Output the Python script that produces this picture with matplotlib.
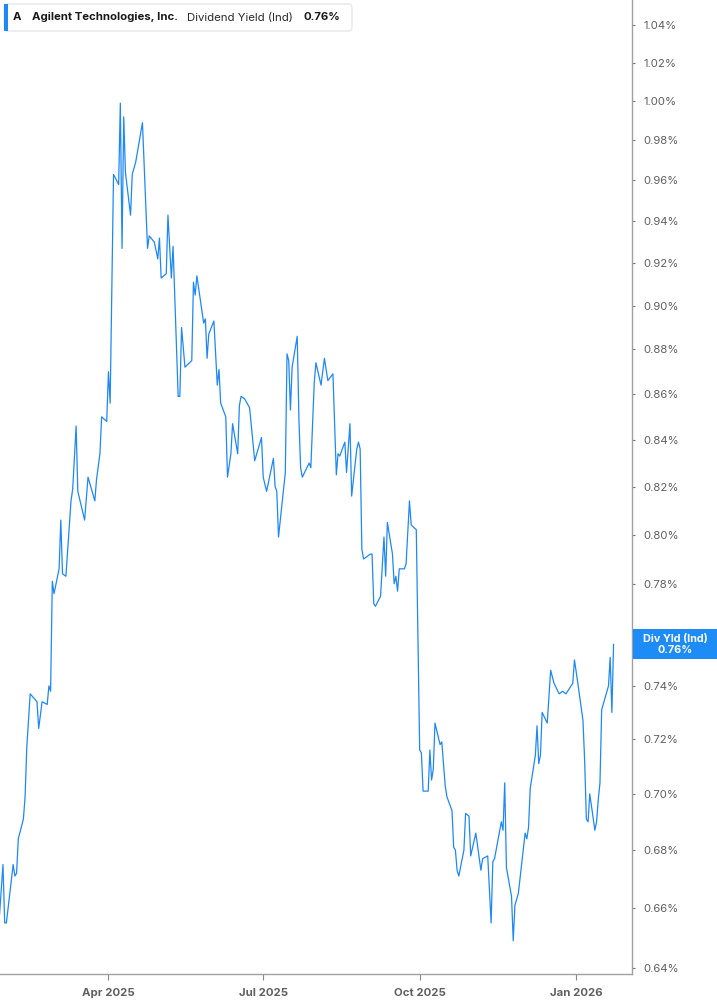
import pandas as pd
import matplotlib.pyplot as plt
import matplotlib.ticker as mticker
from matplotlib.patches import FancyBboxPatch, Rectangle

plt.rcParams['font.family'] = ['Inter', 'DejaVu Sans']

# Dividend yield (Ind) of Agilent, values in percent
dates = [
    '2025-01-27', '2025-01-29', '2025-01-30', '2025-01-31', '2025-02-04', '2025-02-05',
    '2025-02-06', '2025-02-07', '2025-02-10', '2025-02-11', '2025-02-12', '2025-02-14',
    '2025-02-18', '2025-02-19', '2025-02-21', '2025-02-24', '2025-02-25', '2025-02-26',
    '2025-02-27', '2025-02-28', '2025-03-03', '2025-03-04', '2025-03-05', '2025-03-07',
    '2025-03-10', '2025-03-11', '2025-03-13', '2025-03-14', '2025-03-18', '2025-03-20',
    '2025-03-24', '2025-03-25', '2025-03-27', '2025-03-28', '2025-03-31', '2025-04-01',
    '2025-04-02', '2025-04-04', '2025-04-07', '2025-04-08', '2025-04-09', '2025-04-10',
    '2025-04-11', '2025-04-14', '2025-04-15', '2025-04-17', '2025-04-21', '2025-04-24',
    '2025-04-25', '2025-04-28', '2025-04-30', '2025-05-01', '2025-05-02', '2025-05-05',
    '2025-05-06', '2025-05-08', '2025-05-09', '2025-05-12', '2025-05-13', '2025-05-14',
    '2025-05-16', '2025-05-20', '2025-05-21', '2025-05-22', '2025-05-23', '2025-05-27',
    '2025-05-28', '2025-05-29', '2025-05-30', '2025-06-02', '2025-06-04', '2025-06-05',
    '2025-06-06', '2025-06-09', '2025-06-10', '2025-06-12', '2025-06-13', '2025-06-16',
    '2025-06-17', '2025-06-18', '2025-06-20', '2025-06-23', '2025-06-26', '2025-06-30',
    '2025-07-01', '2025-07-03', '2025-07-07', '2025-07-08', '2025-07-09', '2025-07-10',
    '2025-07-14', '2025-07-15', '2025-07-16', '2025-07-17', '2025-07-18', '2025-07-21',
    '2025-07-22', '2025-07-23', '2025-07-24', '2025-07-28', '2025-07-29', '2025-07-31',
    '2025-08-01', '2025-08-04', '2025-08-06', '2025-08-08', '2025-08-11', '2025-08-13',
    '2025-08-14', '2025-08-15', '2025-08-18', '2025-08-19', '2025-08-21', '2025-08-22',
    '2025-08-25', '2025-08-26', '2025-08-27', '2025-08-28', '2025-08-29', '2025-09-02',
    '2025-09-03', '2025-09-04', '2025-09-05', '2025-09-08', '2025-09-10', '2025-09-11',
    '2025-09-12', '2025-09-15', '2025-09-16', '2025-09-17', '2025-09-18', '2025-09-19',
    '2025-09-22', '2025-09-23', '2025-09-25', '2025-09-26', '2025-09-29', '2025-10-01',
    '2025-10-02', '2025-10-03', '2025-10-06', '2025-10-07', '2025-10-08', '2025-10-09',
    '2025-10-10', '2025-10-13', '2025-10-14', '2025-10-16', '2025-10-17', '2025-10-20',
    '2025-10-21', '2025-10-22', '2025-10-23', '2025-10-24', '2025-10-27', '2025-10-28',
    '2025-10-30', '2025-10-31', '2025-11-03', '2025-11-06', '2025-11-07', '2025-11-10',
    '2025-11-12', '2025-11-13', '2025-11-14', '2025-11-18', '2025-11-19', '2025-11-20',
    '2025-11-21', '2025-11-24', '2025-11-25', '2025-11-26', '2025-11-28', '2025-12-02',
    '2025-12-03', '2025-12-04', '2025-12-05', '2025-12-08', '2025-12-09', '2025-12-10',
    '2025-12-11', '2025-12-12', '2025-12-15', '2025-12-17', '2025-12-19', '2025-12-22',
    '2025-12-24', '2025-12-26', '2025-12-30', '2025-12-31', '2026-01-02', '2026-01-05',
    '2026-01-06', '2026-01-07', '2026-01-08', '2026-01-09', '2026-01-12', '2026-01-13',
    '2026-01-14', '2026-01-15', '2026-01-16', '2026-01-20', '2026-01-21', '2026-01-22',
    '2026-01-23',
]
div_yield = [
    0.658, 0.675, 0.655, 0.655, 0.675, 0.671,
    0.672, 0.684, 0.691, 0.699, 0.717, 0.737,
    0.734, 0.724, 0.734, 0.733, 0.740, 0.738,
    0.781, 0.776, 0.786, 0.806, 0.784, 0.783,
    0.814, 0.819, 0.846, 0.818, 0.806, 0.824,
    0.814, 0.823, 0.834, 0.850, 0.848, 0.870,
    0.856, 0.963, 0.958, 0.999, 0.927, 0.992,
    0.964, 0.943, 0.963, 0.969, 0.989, 0.927,
    0.933, 0.930, 0.922, 0.932, 0.913, 0.915,
    0.943, 0.913, 0.928, 0.859, 0.859, 0.890,
    0.872, 0.875, 0.911, 0.905, 0.914, 0.892,
    0.894, 0.876, 0.887, 0.893, 0.864, 0.871,
    0.856, 0.850, 0.824, 0.834, 0.847, 0.834,
    0.855, 0.859, 0.858, 0.854, 0.831, 0.841,
    0.824, 0.818, 0.832, 0.820, 0.818, 0.799,
    0.826, 0.878, 0.875, 0.853, 0.872, 0.886,
    0.849, 0.828, 0.824, 0.830, 0.828, 0.865,
    0.874, 0.864, 0.876, 0.866, 0.869, 0.825,
    0.834, 0.833, 0.839, 0.826, 0.847, 0.816,
    0.836, 0.839, 0.836, 0.794, 0.790, 0.792,
    0.792, 0.772, 0.771, 0.775, 0.799, 0.783,
    0.805, 0.792, 0.780, 0.783, 0.777, 0.786,
    0.786, 0.788, 0.814, 0.804, 0.802, 0.716,
    0.715, 0.701, 0.701, 0.716, 0.705, 0.709,
    0.726, 0.718, 0.719, 0.703, 0.699, 0.694,
    0.681, 0.680, 0.673, 0.671, 0.680, 0.693,
    0.692, 0.678, 0.686, 0.673, 0.677, 0.678,
    0.655, 0.676, 0.677, 0.690, 0.687, 0.704,
    0.674, 0.664, 0.649, 0.661, 0.665, 0.686,
    0.684, 0.688, 0.702, 0.714, 0.725, 0.711,
    0.714, 0.730, 0.726, 0.746, 0.741, 0.737,
    0.738, 0.737, 0.741, 0.750, 0.741, 0.727,
    0.712, 0.691, 0.690, 0.700, 0.687, 0.690,
    0.698, 0.704, 0.731, 0.740, 0.751, 0.730,
    0.756,
]

y_ticks = [0.64, 0.66, 0.68, 0.70, 0.72, 0.74, 0.76, 0.78, 0.80, 0.82, 0.84,
           0.86, 0.88, 0.90, 0.92, 0.94, 0.96, 0.98, 1.00, 1.02, 1.04]
x_ticks = ['2025-04-01', '2025-07-01', '2025-10-01', '2026-01-01']
x_tick_labels = ['Apr 2025', 'Jul 2025', 'Oct 2025', 'Jan 2026']

line_color = '#1e88f5'
W, H = 717, 1005

fig = plt.figure(figsize=(W / 100, H / 100), dpi=100)
ax = fig.add_axes([0, 31 / H, 632 / W, 974 / H])

x = pd.to_datetime(dates)
ax.plot(x, div_yield, color=line_color, lw=0.9)

ax.set_yscale('log')
ax.set_ylim(0.638, 1.0535)
ax.set_xlim(pd.Timestamp('2025-01-27 06:00'), pd.Timestamp('2026-02-02 20:00'))

ax.yaxis.set_major_locator(mticker.FixedLocator(y_ticks))
ax.yaxis.set_minor_locator(mticker.NullLocator())
ax.yaxis.set_major_formatter(mticker.FuncFormatter(lambda v, _: f'{v:.2f}%'))
ax.yaxis.tick_right()
ax.tick_params(axis='y', which='major', length=2.5, width=0.8, color='#777777',
               pad=6, labelsize=8.2, labelcolor='#606060')

ax.set_xticks(pd.to_datetime(x_ticks))
ax.set_xticklabels(x_tick_labels, fontweight='bold')
ax.tick_params(axis='x', length=4, width=0.8, color='#888888', pad=6,
               labelsize=8.2, labelcolor='#606060')

for side in ['left', 'top']:
    ax.spines[side].set_visible(False)
for side in ['right', 'bottom']:
    ax.spines[side].set_color('#a0a0a0')
    ax.spines[side].set_linewidth(1.0)

# header box top-left
fig.patches.append(FancyBboxPatch((4 / W, 1 - 31 / H), 348 / W, 27 / H,
                                  boxstyle='round,pad=0,rounding_size=0.004',
                                  transform=fig.transFigure, facecolor='white',
                                  edgecolor='#e2e2e2', linewidth=0.8, zorder=5))
fig.patches.append(Rectangle((4 / W, 1 - 31 / H), 4 / W, 27 / H,
                             transform=fig.transFigure, facecolor=line_color,
                             edgecolor='none', zorder=6))
ty = 1 - 17.5 / H
hdr = 8.2
fig.text(13 / W, ty, 'A', fontsize=hdr, fontweight='bold', color='#1a1a1a', va='center', zorder=7)
fig.text(32 / W, ty, 'Agilent Technologies, Inc.', fontsize=hdr, fontweight='bold',
         color='#1a1a1a', va='center', zorder=7)
fig.text(187 / W, ty, 'Dividend Yield (Ind)', fontsize=hdr, color='#2a2a2a', va='center', zorder=7)
fig.text(303 / W, ty, f'{div_yield[-1]:.2f}%', fontsize=hdr, fontweight='bold',
         color='#1a1a1a', va='center', zorder=7)

# last value label on the right axis, centred on the last point
last_px = ax.transData.transform((ax.get_xlim()[0], div_yield[-1]))[1]
fig.patches.append(Rectangle((633 / W, (last_px - 15) / H), 84 / W, 30 / H,
                             transform=fig.transFigure, facecolor='#1e8cf7',
                             edgecolor='none', zorder=10))
fig.text(675 / W, last_px / H, f'Div Yld (Ind)\n{div_yield[-1]:.2f}%', ha='center', va='center',
         fontsize=7.8, fontweight='bold', color='white', linespacing=1.05, zorder=11)

fig.savefig('out.png', dpi=100)
